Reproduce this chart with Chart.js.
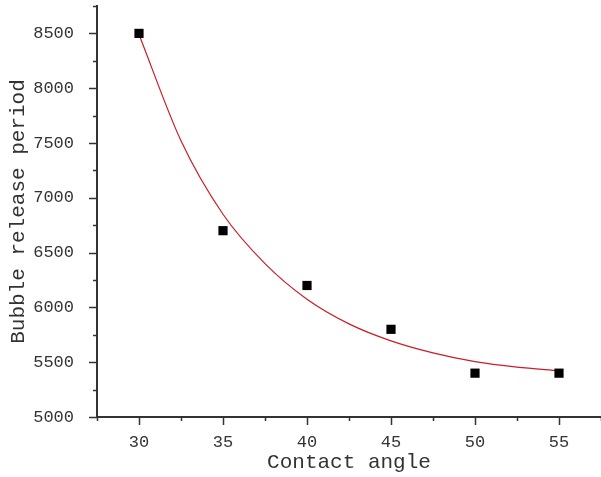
<!DOCTYPE html>
<html>
<head>
<meta charset="utf-8">
<script src="https://cdn.jsdelivr.net/npm/chart.js@4/dist/chart.umd.min.js"></script>
<style>
  html, body { margin: 0; padding: 0; background: #fff; }
  #wrap { width: 601px; height: 477px; }
</style>
</head>
<body>
<div id="wrap"><canvas id="myChart"></canvas></div>
<script>
// measured points
const angles = [30, 35, 40, 45, 50, 55]
const periods = [8500, 6700, 6200, 5800, 5400, 5400]

// fitted curve
const fitAngles = [30, 32.5, 35, 37.5, 40, 42.5, 45, 47.5, 50, 52.5, 55]
const fitPeriods = [8490, 7520, 6850, 6400, 6075, 5850, 5695, 5585, 5505, 5455, 5423]

const xTicks = [30, 35, 40, 45, 50, 55]
const yTicks = [5000, 5500, 6000, 6500, 7000, 7500, 8000, 8500]

const font = "'Liberation Mono', 'Courier New', monospace"

// draws the long (labelled) and short (minor) tick marks outside the axes
const tickMarks = {
    id: 'tickMarks',
    afterDraw(chart) {
        const c = chart.ctx
        const x = chart.scales.x
        const y = chart.scales.y
        c.save()
        c.strokeStyle = '#333'
        c.lineWidth = 1.5
        c.beginPath()
        for (let v = x.min; v <= x.max + 0.01; v += 2.5) {
            const px = Math.round(x.getPixelForValue(v)) + 0.5
            const major = xTicks.includes(v)
            c.moveTo(px, y.bottom)
            c.lineTo(px, y.bottom + (major ? 8 : 4))
        }
        for (let v = y.min; v <= y.max + 0.01; v += 250) {
            const py = Math.round(y.getPixelForValue(v)) + 0.5
            const major = yTicks.includes(v)
            c.moveTo(x.left, py)
            c.lineTo(x.left - (major ? 8 : 4), py)
        }
        c.stroke()
        c.restore()
    }
}

const noPad = (scale) => {
    scale.paddingTop = 0
    scale.paddingBottom = 0
    scale.paddingLeft = 0
    scale.paddingRight = 0
}

const ctx = document.getElementById('myChart')

new Chart(ctx, {
    type: 'scatter',
    data: {
        datasets: [{
            data: angles.map((a, i) => ({ x: a, y: periods[i] })),
            backgroundColor: '#000',
            borderColor: '#000',
            pointStyle: 'rect',
            pointRadius: 6.5,
            pointHoverRadius: 6.5,
            borderWidth: 0
        }, {
            data: fitAngles.map((a, i) => ({ x: a, y: fitPeriods[i] })),
            showLine: true,
            borderColor: 'rgb(200, 30, 40)',
            borderWidth: 1.2,
            pointRadius: 0,
            cubicInterpolationMode: 'monotone'
        }]
    },
    options: {
        responsive: true,
        maintainAspectRatio: false,
        animation: false,
        layout: { autoPadding: false, padding: { left: 6, right: 0, top: 6, bottom: 0 } },
        plugins: {
            legend: { display: false },
            tooltip: { enabled: false }
        },
        scales: {
            x: {
                type: 'linear',
                min: 27.5,
                max: 57.5,
                afterBuildTicks: (scale) => { scale.ticks = xTicks.map(v => ({ value: v })) },
                afterFit: (scale) => { scale.height = 60; noPad(scale) },
                grid: { display: false },
                border: { display: true, color: '#333', width: 2 },
                ticks: {
                    color: '#333',
                    font: { family: font, size: 17 },
                    padding: 7,
                    maxRotation: 0,
                    callback: (v) => String(v)
                },
                title: {
                    display: true,
                    text: 'Contact angle',
                    color: '#333',
                    font: { family: font, size: 21 },
                    padding: { top: 0, bottom: 2 }
                }
            },
            y: {
                type: 'linear',
                min: 5000,
                max: 8750,
                afterBuildTicks: (scale) => { scale.ticks = yTicks.map(v => ({ value: v })) },
                afterFit: (scale) => { scale.width = 91; noPad(scale) },
                grid: { display: false },
                border: { display: true, color: '#333', width: 2 },
                ticks: {
                    color: '#333',
                    font: { family: font, size: 17 },
                    padding: 15,
                    callback: (v) => String(v)
                },
                title: {
                    display: true,
                    text: 'Bubble release period',
                    color: '#333',
                    font: { family: font, size: 21 },
                    padding: { top: 0, bottom: 4 }
                }
            }
        }
    },
    plugins: [tickMarks]
});
</script>
</body>
</html>
